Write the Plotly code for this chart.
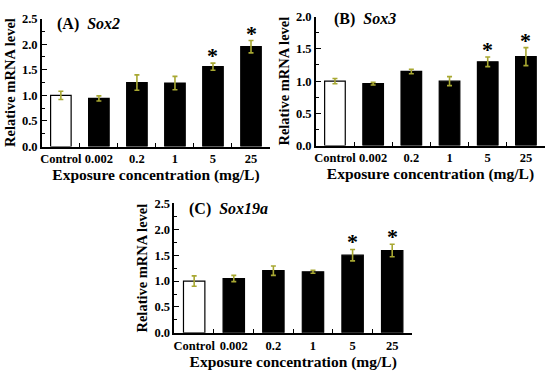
import plotly.graph_objects as go

categories = ["Control", "0.002", "0.2", "1", "5", "25"]

sox2_mean = [1.00, 0.94, 1.25, 1.24, 1.56, 1.95]
sox2_err = [0.08, 0.05, 0.15, 0.13, 0.07, 0.12]
sox2_sig = [False, False, False, False, True, True]

sox3_mean = [1.00, 0.96, 1.15, 1.00, 1.30, 1.38]
sox3_err = [0.04, 0.02, 0.035, 0.07, 0.075, 0.14]
sox3_sig = [False, False, False, False, True, True]

sox19a_mean = [1.00, 1.05, 1.20, 1.18, 1.50, 1.59]
sox19a_err = [0.10, 0.06, 0.09, 0.03, 0.11, 0.12]
sox19a_sig = [False, False, False, False, True, True]

panels = [
    ("(A)", "Sox2", sox2_mean, sox2_err, sox2_sig, 2.5),
    ("(B)", "Sox3", sox3_mean, sox3_err, sox3_sig, 2.0),
    ("(C)", "Sox19a", sox19a_mean, sox19a_err, sox19a_sig, 2.5),
]

# domains in paper coords (x, y)
domains = [
    ([40/550, 269/550], [230/375, 363/375]),
    ([315/550, 545/550], [231/375, 365/375]),
    ([173/550, 411.5/550], [36.5/375, 171/375]),
]
label_pos = [(0.058, 0.955), (0.07, 0.985), (0.055, 0.96)]

FONT = "Liberation Serif"
ERRC = "#a8a832"

fig = go.Figure()
annotations = []

for i, (lab, gene, mean, err, sig, ymax) in enumerate(panels):
    n = "" if i == 0 else str(i + 1)
    xa = "x" + n
    ya = "y" + n
    colors = ["white"] + ["black"] * (len(categories) - 1)
    fig.add_trace(go.Bar(
        x=categories, y=mean, xaxis=xa, yaxis=ya,
        marker=dict(color=colors, line=dict(color="black", width=1.2)),
        error_y=dict(type="data", array=err, visible=True, color=ERRC,
                     thickness=1.6, width=2.5),
        showlegend=False, hoverinfo="skip",
    ))
    xd, yd = domains[i]
    axx = dict(
        domain=xd, anchor=ya, type="category",
        categoryorder="array", categoryarray=categories,
        range=[-0.5, len(categories) - 0.5], autorange=False,
        showline=True, linecolor="black", linewidth=1.5, mirror=False,
        ticks="inside", tickson="boundaries", ticklen=4, tickcolor="black",
        tickwidth=1.2, showgrid=False, zeroline=False, tickangle=0,
        tickfont=dict(family=FONT, size=12.5, color="black", weight="bold"),
        title=dict(text="<b>Exposure concentration (mg/L)</b>",
                   font=dict(family=FONT, size=15.5, color="black"), standoff=0),
        fixedrange=True,
    )
    axy = dict(
        domain=yd, anchor=xa, range=[0, ymax], dtick=0.5, tick0=0,
        tickformat=".1f",
        showline=True, linecolor="black", linewidth=1.5,
        ticks="inside", ticklen=5, tickcolor="black", tickwidth=1.2,
        minor=dict(ticks="inside", ticklen=3, tickcolor="black", dtick=0.25, tickwidth=1.2),
        showgrid=False, zeroline=False,
        tickfont=dict(family=FONT, size=12.5, color="black", weight="bold"),
        title=dict(text="<b>Relative mRNA level</b>",
                   font=dict(family=FONT, size=14.5, color="black"), standoff=3),
        fixedrange=True,
    )
    fig.layout["xaxis" + n] = axx
    fig.layout["yaxis" + n] = axy

    lx, ly = label_pos[i]
    annotations.append(dict(
        xref=xa + " domain", yref=ya + " domain", x=lx, y=ly,
        xanchor="left", yanchor="middle", showarrow=False,
        text="<b>" + lab + "  <i>" + gene + "</i></b>",
        font=dict(family=FONT, size=16, color="black"),
    ))
    for j, (m, e, s) in enumerate(zip(mean, err, sig)):
        if s:
            annotations.append(dict(
                xref=xa, yref=ya, x=j, y=m + e,
                xanchor="center", yanchor="bottom", showarrow=False,
                text="<b>*</b>", yshift=-7,
                font=dict(family=FONT, size=22, color="black"),
            ))

fig.update_layout(
    width=550, height=375,
    margin=dict(l=0, r=0, t=0, b=0),
    paper_bgcolor="white", plot_bgcolor="white",
    bargap=0.46,
    annotations=annotations,
)

fig.write_html("out.html", config={"displayModeBar": False},
               post_script="document.body.style.margin='0';")
